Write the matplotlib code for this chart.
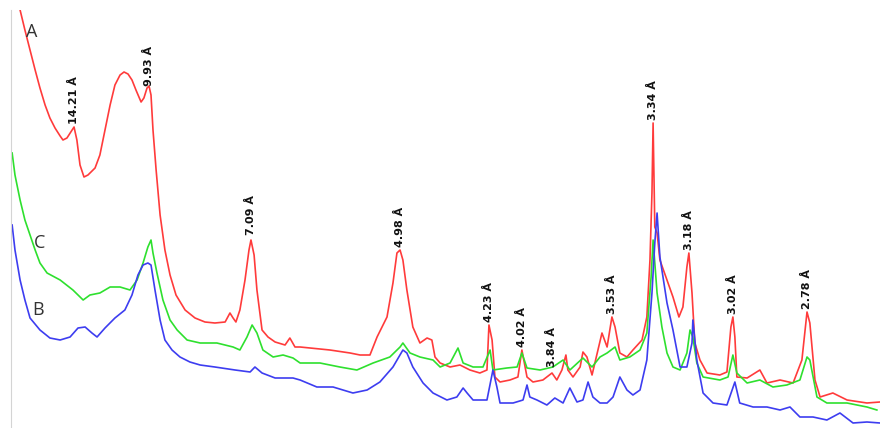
import numpy as np
import matplotlib
matplotlib.use("Agg")
import matplotlib.pyplot as plt

# 2theta (deg) / intensity (a.u.)
a_2t = [4.36, 4.53, 4.71, 4.89, 5.06, 5.24, 5.41, 5.59, 5.77, 5.87, 6.01, 6.19, 6.26, 6.36, 6.47,
        6.61, 6.75, 7.00, 7.17, 7.35, 7.53, 7.70, 7.88, 8.02, 8.16, 8.30, 8.44, 8.62, 8.72, 8.83,
        8.90, 8.97, 9.04, 9.15, 9.29, 9.46, 9.64, 9.85, 10.17, 10.52, 10.87, 11.22, 11.58, 11.75,
        11.86, 11.96, 12.10, 12.28, 12.42, 12.49, 12.60, 12.70, 12.88, 13.09, 13.34, 13.69, 13.86,
        14.04, 14.22, 15.27, 15.98, 16.33, 16.68, 16.93, 17.28, 17.49, 17.63, 17.74, 17.84, 17.98,
        18.19, 18.44, 18.69, 18.86, 18.97, 19.15, 19.50, 19.85, 20.20, 20.55, 20.80, 20.87, 20.98,
        21.08, 21.26, 21.61, 21.89, 22.03, 22.21, 22.42, 22.77, 23.09, 23.26, 23.44, 23.58, 23.65,
        23.83, 24.08, 24.18, 24.32, 24.50, 24.71, 24.85, 25.03, 25.20, 25.31, 25.48, 25.73, 25.94,
        26.26, 26.43, 26.54, 26.61, 26.65, 26.68, 26.71, 26.79, 26.89, 27.14, 27.35, 27.56, 27.70,
        27.84, 27.91, 28.02, 28.12, 28.30, 28.55, 29.00, 29.25, 29.39, 29.46, 29.53, 29.60, 29.96,
        30.41, 30.66, 31.12, 31.58, 31.89, 32.07, 32.17, 32.35, 32.53, 32.98, 33.48, 34.18, 34.64]
a_int = [418, 398, 378, 358, 340, 323, 310, 300, 292, 288, 290, 298, 301, 288, 263,
         251, 253, 260, 273, 298, 323, 343, 353, 356, 354, 348, 338, 326, 330, 340,
         342, 333, 298, 258, 213, 178, 153, 133, 118, 110, 106, 105, 106, 115,
         110, 106, 118, 148, 178, 188, 173, 138, 98, 91, 86, 83, 90,
         81, 81, 78, 75, 73, 73, 91, 111, 145, 175, 178, 168, 138,
         101, 85, 90, 88, 71, 65, 61, 63, 58, 55, 58, 103, 88,
         51, 46, 48, 51, 78, 51, 46, 48, 55, 48, 58, 73, 58,
         51, 61, 76, 71, 53, 78, 95, 81, 111, 101, 75, 71, 78,
         88, 111, 168, 235, 305, 251, 201, 195, 168, 148, 131, 111, 121,
         161, 175, 135, 85, 68, 55, 53, 56, 101, 111, 91, 51, 50,
         58, 45, 48, 45, 68, 116, 105, 48, 31, 35, 28, 25, 26]

c_2t = [4.08, 4.18, 4.36, 4.53, 4.71, 4.89, 5.06, 5.31, 5.77, 6.22, 6.58, 6.82, 7.17, 7.53, 7.88,
        8.23, 8.48, 8.69, 8.86, 8.97, 9.04, 9.18, 9.39, 9.64, 9.89, 10.24, 10.70, 11.29, 11.86,
        12.10, 12.35, 12.53, 12.70, 12.91, 13.27, 13.62, 13.97, 14.22, 14.92, 15.62, 16.22, 16.79,
        17.38, 17.74, 17.84, 18.09, 18.44, 18.90, 19.15, 19.50, 19.78, 19.96, 20.31, 20.66, 20.91,
        21.01, 21.50, 21.86, 22.03, 22.21, 22.67, 23.12, 23.48, 23.72, 24.18, 24.50, 24.78, 25.03,
        25.31, 25.48, 25.83, 26.19, 26.43, 26.58, 26.65, 26.79, 26.96, 27.14, 27.35, 27.60, 27.84,
        27.95, 28.05, 28.19, 28.41, 29.00, 29.29, 29.46, 29.60, 29.96, 30.41, 30.87, 31.36, 31.82,
        32.07, 32.17, 32.42, 32.77, 33.48, 34.18, 34.53]
c_int = [275, 253, 228, 208, 193, 178, 165, 155, 148, 138, 128, 133, 135, 141, 141,
         138, 148, 165, 181, 188, 175, 155, 128, 108, 98, 88, 85, 85, 81,
         78, 91, 103, 95, 78, 71, 73, 70, 65, 65, 61, 58, 65,
         71, 81, 85, 75, 71, 68, 61, 65, 80, 65, 61, 61, 78,
         58, 60, 61, 75, 60, 58, 61, 68, 58, 70, 61, 71, 75,
         81, 68, 71, 78, 95, 151, 188, 135, 101, 75, 61, 58, 75,
         98, 91, 65, 51, 48, 51, 73, 55, 45, 48, 41, 43, 48,
         71, 68, 31, 25, 25, 21, 18]

b_2t = [4.08, 4.18, 4.36, 4.53, 4.71, 5.06, 5.41, 5.77, 6.12, 6.40, 6.65, 6.89, 7.07, 7.35, 7.70,
        8.05, 8.30, 8.51, 8.69, 8.86, 8.97, 9.11, 9.29, 9.46, 9.71, 9.99, 10.34, 10.70, 11.22,
        11.93, 12.46, 12.63, 12.88, 13.34, 13.97, 14.22, 14.81, 15.38, 16.08, 16.58, 17.03, 17.49,
        17.84, 17.98, 18.19, 18.55, 18.90, 19.39, 19.74, 19.96, 20.10, 20.31, 20.80, 21.01, 21.15,
        21.26, 21.72, 22.07, 22.21, 22.31, 22.56, 22.91, 23.19, 23.48, 23.72, 23.97, 24.18, 24.36,
        24.53, 24.78, 25.03, 25.24, 25.48, 25.73, 25.94, 26.19, 26.43, 26.61, 26.71, 26.79, 26.89,
        27.14, 27.35, 27.60, 27.84, 28.02, 28.05, 28.19, 28.41, 28.76, 29.25, 29.53, 29.70, 30.17,
        30.66, 31.12, 31.47, 31.82, 32.28, 32.77, 33.23, 33.69, 34.18, 34.64]
b_int = [203, 178, 148, 128, 110, 98, 90, 88, 91, 100, 101, 95, 91, 100, 110,
         118, 133, 153, 163, 165, 163, 138, 108, 88, 78, 71, 66, 63, 61,
         58, 56, 61, 55, 50, 50, 48, 41, 41, 35, 38, 46, 61,
         78, 75, 61, 45, 35, 28, 31, 40, 35, 28, 28, 58, 41,
         25, 25, 28, 43, 31, 28, 23, 30, 25, 40, 26, 28, 46,
         31, 25, 25, 31, 51, 38, 33, 38, 68, 135, 185, 215, 171,
         125, 98, 61, 61, 85, 108, 68, 35, 25, 23, 46, 25, 21,
         21, 18, 21, 11, 11, 8, 15, 5, 6, 5]

peak_labels = ["14.21 Å", "9.93 Å", "7.09 Å", "4.98 Å", "4.23 Å", "4.02 Å",
               "3.84 Å", "3.53 Å", "3.34 Å", "3.18 Å", "3.02 Å", "2.78 Å"]
peak_2t = [6.26, 8.90, 12.49, 17.74, 20.87, 22.03, 23.09, 25.20, 26.65, 27.91, 29.46, 32.07]
peak_top = [304, 342, 193, 181, 106, 81, 61, 114, 308, 178, 114, 119]

fig = plt.figure(figsize=(8.8, 4.28), dpi=100)
ax = fig.add_axes([11/880, 0, 869/880, 418/428])

ax.plot(a_2t, a_int, color="#ff3b3b", lw=1.2)
ax.plot(c_2t, c_int, color="#2ee02e", lw=1.2)
ax.plot(b_2t, b_int, color="#3d3df0", lw=1.2)

for lab, x, y in zip(peak_labels, peak_2t, peak_top):
    ax.text(x, y, lab, rotation=90, ha="center", va="bottom", fontsize=8,
            fontweight="bold", color="#111111",
            family=["Liberation Sans Narrow", "DejaVu Sans"])

for name, x, y in [("A", 4.78, 396), ("C", 5.06, 185), ("B", 4.99, 118)]:
    ax.text(x, y, name, ha="center", va="center", fontsize=13, color="#333333",
            family=["Open Sans", "DejaVu Sans"])

ax.set_xlim(4.04, 34.64)
ax.set_ylim(0, 418)
for s in ["top", "right", "bottom"]:
    ax.spines[s].set_visible(False)
ax.spines["left"].set_color("#d4d4d4")
ax.set_xticks([])
ax.set_yticks([])

fig.savefig("out.png", dpi=100)
